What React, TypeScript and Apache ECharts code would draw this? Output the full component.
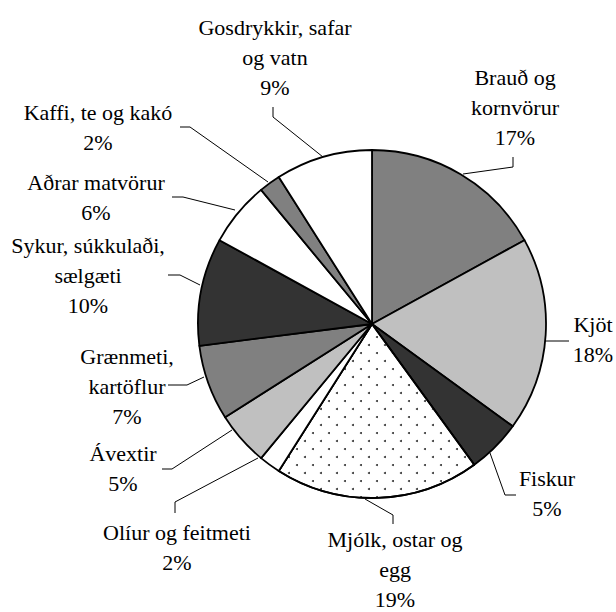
import React, { useEffect, useRef } from "react";
import * as echarts from "echarts";

const categories = [
  "Brauð og\nkornvörur",
  "Kjöt",
  "Fiskur",
  "Mjólk, ostar og\negg",
  "Olíur og feitmeti",
  "Ávextir",
  "Grænmeti,\nkartöflur",
  "Sykur, súkkulaði,\nsælgæti",
  "Aðrar matvörur",
  "Kaffi, te og kakó",
  "Gosdrykkir, safar\nog vatn",
];
const shares = [17, 18, 5, 19, 2, 5, 7, 10, 6, 2, 9];

const fills = ["#808080", "#c0c0c0", "#333333", "#ffffff", "#ffffff", "#c0c0c0", "#808080", "#333333", "#ffffff", "#808080", "#ffffff"];
const dotted = [false, false, false, true, false, false, false, false, false, false, false];

const FONT = "'Liberation Serif', 'Times New Roman', serif";

// label block centres and leader line points (pixels)
const labelPos: number[][] = [
  [515, 107], [593, 339], [547, 493], [395, 569], [177, 547], [123, 468],
  [127, 386], [88, 275], [96, 197], [98, 127], [275, 57],
];
const leaderPts: number[][][] = [
  [[463, 174], [513, 167], [513, 157]],
  [[545, 341], [557, 341], [569, 341]],
  [[490, 453], [505, 495], [516, 495]],
  [[365, 499], [393, 515], [393, 524]],
  [[258, 458], [175, 502], [175, 513]],
  [[232, 430], [172, 469], [162, 469]],
  [[204, 377], [187, 385], [168, 385]],
  [[200, 285], [180, 275], [168, 275]],
  [[235, 210], [183, 197], [172, 197]],
  [[268, 182], [190, 127], [180, 127]],
  [[323, 157], [273, 117], [273, 107]],
];

export default function App() {
  const ref = useRef<HTMLDivElement>(null);
  useEffect(() => {
    if (!ref.current) return;
    const chart = echarts.init(ref.current, undefined, { renderer: "svg" });
    const data = categories.map((name, i) => ({
      name,
      value: shares[i],
      itemStyle: {
        color: fills[i],
        decal: dotted[i]
          ? {
              symbol: "circle",
              symbolSize: 1,
              color: "#333333",
              backgroundColor: "rgba(0,0,0,0)",
              dashArrayX: [[2, 14], [0, 8, 2, 6]],
              dashArrayY: [2, 6],
              rotation: 0,
            }
          : "none",
      },
    }));
    chart.setOption({
      animation: false,
      backgroundColor: "#ffffff",
      textStyle: { fontFamily: FONT },
      series: [
        {
          type: "pie",
          center: [372, 324],
          radius: 174,
          startAngle: 90,
          clockwise: true,
          avoidLabelOverlap: false,
          silent: true,
          itemStyle: { borderColor: "#000000", borderWidth: 1.8 },
          label: {
            show: true,
            position: "outside",
            formatter: (p: any) => `${p.name}\n${p.value}%`,
            fontFamily: FONT,
            fontSize: 22,
            lineHeight: 30,
            color: "#000000",
            align: "center",
          },
          labelLine: {
            show: true,
            length: 10,
            length2: 10,
            lineStyle: { color: "#000000", width: 1 },
          },
          labelLayout: (params: any) => {
            const i = params.dataIndex;
            return {
              x: labelPos[i][0],
              y: labelPos[i][1],
              align: "center",
              verticalAlign: "middle",
              labelLinePoints: leaderPts[i],
            };
          },
          emphasis: { disabled: true },
          data,
        },
      ],
    });
    return () => chart.dispose();
  }, []);
  return (
    <div
      ref={ref}
      style={{ position: "absolute", left: 0, top: 0, width: 616, height: 612, background: "#fff" }}
    />
  );
}
